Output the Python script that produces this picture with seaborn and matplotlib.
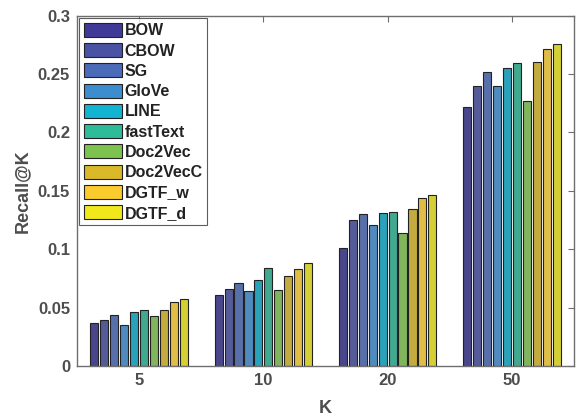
import matplotlib
matplotlib.use("Agg")
import matplotlib.pyplot as plt
import seaborn as sns
import pandas as pd
from matplotlib.patches import Patch

categories = ["5", "10", "20", "50"]
methods = ["BOW", "CBOW", "SG", "GloVe", "LINE", "fastText", "Doc2Vec", "Doc2VecC", "DGTF_w", "DGTF_d"]
values = {
    "BOW":      [0.037, 0.061, 0.101, 0.222],
    "CBOW":     [0.039, 0.066, 0.125, 0.240],
    "SG":       [0.044, 0.071, 0.130, 0.252],
    "GloVe":    [0.035, 0.064, 0.121, 0.240],
    "LINE":     [0.046, 0.074, 0.131, 0.255],
    "fastText": [0.048, 0.084, 0.132, 0.259],
    "Doc2Vec":  [0.043, 0.065, 0.114, 0.227],
    "Doc2VecC": [0.048, 0.077, 0.134, 0.260],
    "DGTF_w":   [0.055, 0.083, 0.144, 0.271],
    "DGTF_d":   [0.057, 0.088, 0.146, 0.276],
}
colors = ["#3F3A97", "#4A52A4", "#4A6BB8", "#3C8DD0", "#12B4D2",
          "#2EBB99", "#7DC24F", "#D9B929", "#FACB2C", "#F0E81B"]

rows = []
for m in methods:
    for c, v in zip(categories, values[m]):
        rows.append({"K": c, "Method": m, "Recall": v})
df = pd.DataFrame(rows)

sns.set_style("white")
plt.rcParams['font.family'] = ['Liberation Sans', 'DejaVu Sans']

fig = plt.figure(figsize=(5.77, 4.16), dpi=100)
ax = fig.add_axes([0.1335, 0.1202, 0.9948 - 0.1335, 0.9627 - 0.1202])

sns.barplot(data=df, x="K", y="Recall", hue="Method", order=categories,
            hue_order=methods, palette=colors, width=0.8, gap=0.18,
            edgecolor="#222222", linewidth=0.8, ax=ax, legend=False)

ax.set_xlim(-0.5, 3.5)
ax.set_ylim(0, 0.3)
ax.set_yticks([0, 0.05, 0.1, 0.15, 0.2, 0.25, 0.3])
ax.set_yticklabels(["0", "0.05", "0.1", "0.15", "0.2", "0.25", "0.3"])

tick_color = "#4d4d4d"
for sp in ax.spines.values():
    sp.set_visible(True)
    sp.set_color("#6e6e6e")
    sp.set_linewidth(1.0)
ax.tick_params(axis="both", direction="in", length=4, width=0.8, color="#6e6e6e",
               labelcolor=tick_color, labelsize=12, top=True, right=True, pad=5)
for lbl in ax.get_xticklabels() + ax.get_yticklabels():
    lbl.set_fontweight("bold")

ax.set_xlabel("K", fontsize=13, fontweight="bold", color=tick_color, labelpad=9)
ax.set_ylabel("Recall@K", fontsize=13, fontweight="bold", color=tick_color, labelpad=5)

handles = [Patch(facecolor=c, edgecolor="#222222", linewidth=0.8, label=m)
           for c, m in zip(colors, methods)]
leg = ax.legend(handles=handles, loc="upper left", bbox_to_anchor=(0.004, 0.993),
                frameon=True, fancybox=False, handlelength=2.4, handleheight=0.97,
                labelspacing=0.3, handletextpad=0.15, borderpad=0.3,
                borderaxespad=0.0, prop={"weight": "bold", "size": 11.5})
leg.get_frame().set_edgecolor("#333333")
leg.get_frame().set_linewidth(0.8)
for t in leg.get_texts():
    t.set_color("#222222")

fig.savefig("out.png", dpi=100)
